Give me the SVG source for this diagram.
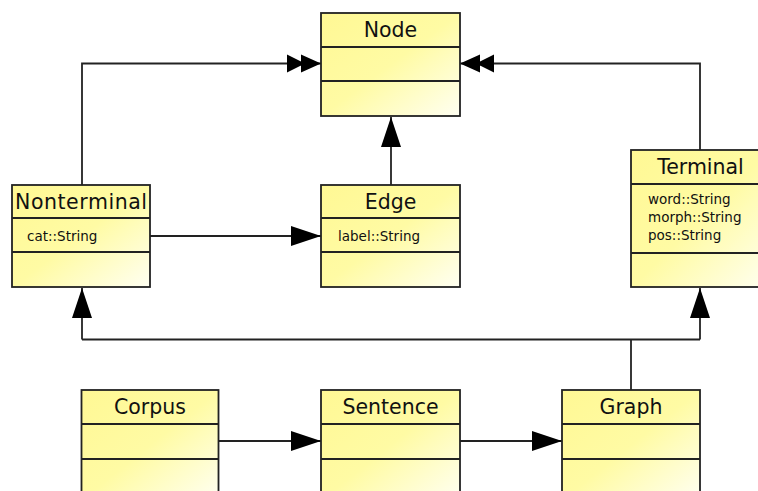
<svg xmlns="http://www.w3.org/2000/svg" width="758" height="491" viewBox="0 0 758 491">
<style>
.box{fill:url(#g);stroke:#222;stroke-width:1.8}
.div{stroke:#222;stroke-width:1.8}
.t{font-family:"DejaVu Sans",sans-serif;font-size:20.5px;fill:#111;text-anchor:middle}
.a{font-family:"DejaVu Sans",sans-serif;font-size:13.5px;fill:#111}
.c{fill:none;stroke:#222;stroke-width:1.8}
</style>
<defs>
<linearGradient id="g" x1="0" y1="0" x2="1" y2="1">
<stop offset="0" stop-color="#FFF894"/>
<stop offset="0.5" stop-color="#FFFBA4"/>
<stop offset="1" stop-color="#FFFFF2"/>
</linearGradient>
<marker id="tri" markerUnits="userSpaceOnUse" markerWidth="31" markerHeight="21" refX="30" refY="10" orient="auto" overflow="visible">
<path d="M0,0 L30,10 L0,20 z" fill="#000"/>
</marker>
<marker id="dbl" markerUnits="userSpaceOnUse" markerWidth="35" markerHeight="21" refX="34" refY="10" orient="auto" overflow="visible">
<path d="M0,1 L18,10 L0,19 z M14,1 L34,10 L14,19 z" fill="#000"/>
</marker>
</defs>
<rect width="758" height="491" fill="#fff"/>
<g id="connectors">
<path class="c" d="M82,185 V63.5 H321" marker-end="url(#dbl)"/>
<path class="c" d="M700,150 V63.5 H460" marker-end="url(#dbl)"/>
<path class="c" d="M391,185 V117" marker-end="url(#tri)"/>
<path class="c" d="M150,236 H321" marker-end="url(#tri)"/>
<path class="c" d="M631,390 V339.5"/>
<path class="c" d="M82,339.5 H700"/>
<path class="c" d="M82,339.5 V288" marker-end="url(#tri)"/>
<path class="c" d="M700,339.5 V288" marker-end="url(#tri)"/>
<path class="c" d="M218,441 H321" marker-end="url(#tri)"/>
<path class="c" d="M460,441 H562" marker-end="url(#tri)"/>
</g>
<g id="node-Node">
<rect class="box" x="321" y="13" width="139" height="103"/>
<line class="div" x1="321" y1="47" x2="460" y2="47"/>
<line class="div" x1="321" y1="81" x2="460" y2="81"/>
<text class="t" x="390.5" y="37">Node</text>
</g>
<g id="node-Nonterminal">
<rect class="box" x="12" y="185" width="138" height="102"/>
<line class="div" x1="12" y1="218" x2="150" y2="218"/>
<line class="div" x1="12" y1="252" x2="150" y2="252"/>
<text class="t" x="81" y="209" textLength="132" lengthAdjust="spacing">Nonterminal</text>
<text class="a" x="27" y="241">cat::String</text>
</g>
<g id="node-Edge">
<rect class="box" x="321" y="185" width="139" height="102"/>
<line class="div" x1="321" y1="218" x2="460" y2="218"/>
<line class="div" x1="321" y1="252" x2="460" y2="252"/>
<text class="t" x="390.5" y="209">Edge</text>
<text class="a" x="338" y="241">label::String</text>
</g>
<g id="node-Terminal">
<rect class="box" x="631" y="150" width="139" height="137"/>
<line class="div" x1="631" y1="184" x2="770" y2="184"/>
<line class="div" x1="631" y1="253" x2="770" y2="253"/>
<text class="t" x="700.5" y="174">Terminal</text>
<text class="a" x="648" y="204">word::String</text>
<text class="a" x="648" y="222">morph::String</text>
<text class="a" x="648" y="240">pos::String</text>
</g>
<g id="node-Corpus">
<rect class="box" x="81.5" y="390" width="137" height="110"/>
<line class="div" x1="81.5" y1="424" x2="218.5" y2="424"/>
<line class="div" x1="81.5" y1="459" x2="218.5" y2="459"/>
<text class="t" x="150" y="414">Corpus</text>
</g>
<g id="node-Sentence">
<rect class="box" x="321" y="390" width="139" height="110"/>
<line class="div" x1="321" y1="424" x2="460" y2="424"/>
<line class="div" x1="321" y1="459" x2="460" y2="459"/>
<text class="t" x="390.5" y="414">Sentence</text>
</g>
<g id="node-Graph">
<rect class="box" x="562" y="390" width="138" height="110"/>
<line class="div" x1="562" y1="424" x2="700" y2="424"/>
<line class="div" x1="562" y1="459" x2="700" y2="459"/>
<text class="t" x="631" y="414">Graph</text>
</g>
</svg>
